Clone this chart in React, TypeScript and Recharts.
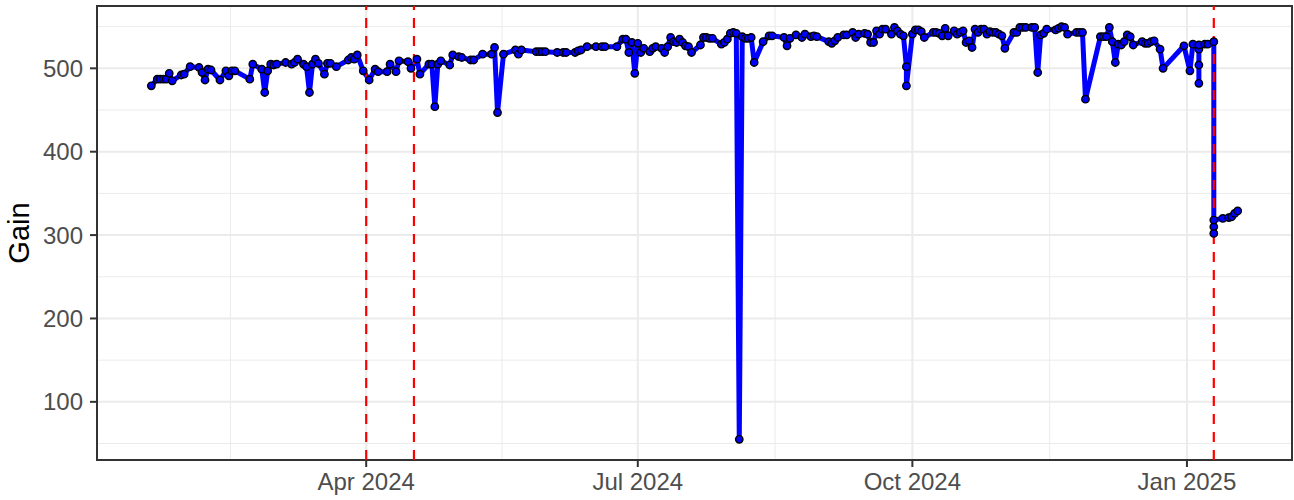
import { LineChart, Line, XAxis, YAxis, CartesianGrid, ReferenceLine, ReferenceArea } from 'recharts'

// observation dates (a few days carry more than one reading)
const dates = [
  '2024-01-20', '2024-01-22', '2024-01-23', '2024-01-24', '2024-01-25', '2024-01-26', '2024-01-27', '2024-01-30', '2024-01-31',
  '2024-02-02', '2024-02-05', '2024-02-06', '2024-02-07', '2024-02-08', '2024-02-09', '2024-02-12', '2024-02-14', '2024-02-15',
  '2024-02-16', '2024-02-17', '2024-02-22', '2024-02-23', '2024-02-26', '2024-02-27', '2024-02-28', '2024-02-29',
  '2024-03-01', '2024-03-02', '2024-03-05', '2024-03-07', '2024-03-08', '2024-03-09', '2024-03-11', '2024-03-12', '2024-03-13',
  '2024-03-14', '2024-03-15', '2024-03-16', '2024-03-18', '2024-03-19', '2024-03-20', '2024-03-22', '2024-03-26', '2024-03-27',
  '2024-03-28', '2024-03-29', '2024-03-31',
  '2024-04-02', '2024-04-04', '2024-04-05', '2024-04-08', '2024-04-09', '2024-04-11', '2024-04-12', '2024-04-15', '2024-04-16',
  '2024-04-18', '2024-04-19', '2024-04-22', '2024-04-23', '2024-04-24', '2024-04-25', '2024-04-26', '2024-04-29', '2024-04-30',
  '2024-05-02', '2024-05-03', '2024-05-06', '2024-05-07', '2024-05-10', '2024-05-13', '2024-05-14', '2024-05-15', '2024-05-17',
  '2024-05-21', '2024-05-22', '2024-05-23', '2024-05-28', '2024-05-29', '2024-05-30', '2024-05-31',
  '2024-06-04', '2024-06-06', '2024-06-07', '2024-06-10', '2024-06-11', '2024-06-12', '2024-06-14', '2024-06-17', '2024-06-19',
  '2024-06-20', '2024-06-24', '2024-06-26', '2024-06-27', '2024-06-28', '2024-06-29', '2024-06-30',
  '2024-07-01', '2024-07-02', '2024-07-03', '2024-07-05', '2024-07-06', '2024-07-07', '2024-07-09', '2024-07-10', '2024-07-11',
  '2024-07-12', '2024-07-13', '2024-07-14', '2024-07-15', '2024-07-16', '2024-07-17', '2024-07-18', '2024-07-19', '2024-07-22',
  '2024-07-23', '2024-07-24', '2024-07-25', '2024-07-26', '2024-07-29', '2024-07-30', '2024-07-31',
  '2024-08-01', '2024-08-02', '2024-08-03', '2024-08-04', '2024-08-05', '2024-08-06', '2024-08-07', '2024-08-08', '2024-08-09',
  '2024-08-12', '2024-08-14', '2024-08-15', '2024-08-19', '2024-08-20', '2024-08-21', '2024-08-23', '2024-08-25', '2024-08-26',
  '2024-08-28', '2024-08-29', '2024-08-30',
  '2024-09-03', '2024-09-04', '2024-09-05', '2024-09-06', '2024-09-08', '2024-09-09', '2024-09-11', '2024-09-12', '2024-09-13',
  '2024-09-15', '2024-09-16', '2024-09-17', '2024-09-18', '2024-09-19', '2024-09-20', '2024-09-21', '2024-09-22', '2024-09-24',
  '2024-09-25', '2024-09-26', '2024-09-27', '2024-09-28', '2024-09-29', '2024-09-29',
  '2024-10-01', '2024-10-02', '2024-10-03', '2024-10-04', '2024-10-05', '2024-10-08', '2024-10-09', '2024-10-10', '2024-10-11',
  '2024-10-12', '2024-10-13', '2024-10-15', '2024-10-16', '2024-10-17', '2024-10-18', '2024-10-19', '2024-10-20', '2024-10-21',
  '2024-10-22', '2024-10-23', '2024-10-24', '2024-10-25', '2024-10-26', '2024-10-27', '2024-10-28', '2024-10-29', '2024-10-30',
  '2024-10-31',
  '2024-11-01', '2024-11-04', '2024-11-05', '2024-11-06', '2024-11-07', '2024-11-08', '2024-11-10', '2024-11-11', '2024-11-12',
  '2024-11-13', '2024-11-14', '2024-11-15', '2024-11-18', '2024-11-19', '2024-11-20', '2024-11-21', '2024-11-22', '2024-11-25',
  '2024-11-26', '2024-11-27', '2024-11-28',
  '2024-12-03', '2024-12-04', '2024-12-05', '2024-12-06', '2024-12-07', '2024-12-08', '2024-12-09', '2024-12-10', '2024-12-11',
  '2024-12-12', '2024-12-13', '2024-12-14', '2024-12-17', '2024-12-18', '2024-12-19', '2024-12-20', '2024-12-21', '2024-12-23',
  '2024-12-24', '2024-12-31',
  '2025-01-02', '2025-01-03', '2025-01-05', '2025-01-05', '2025-01-05', '2025-01-05', '2025-01-07', '2025-01-08',
  '2025-01-10', '2025-01-10', '2025-01-10', '2025-01-10', '2025-01-13', '2025-01-15', '2025-01-16', '2025-01-17', '2025-01-18',
]

const gains = [
  479, 487, 487, 487, 487, 494, 485, 492, 493,
  502, 501, 495, 486, 499, 498, 486, 497, 491,
  497, 497, 487, 505, 499, 471, 497, 505,
  504, 505, 507, 505, 507, 511, 505, 502, 471,
  505, 511, 506, 493, 506, 506, 502, 510, 513,
  511, 516, 497,
  486, 499, 496, 496, 505, 496, 509, 508, 500,
  511, 493, 505, 505, 454, 505, 509, 504, 516,
  514, 513, 510, 510, 517, 517, 525, 447, 517,
  522, 517, 522, 520, 520, 520, 520,
  519, 519, 519, 519, 521, 522, 526, 526, 526,
  526, 526, 535, 535, 519, 531, 494,
  530, 519, 524, 520, 524, 526, 524, 519, 526,
  537, 532, 531, 535, 531, 527, 526, 519, 528,
  537, 537, 536, 536, 529, 531, 535,
  542, 543, 542, 55, 538, 536, 536, 537, 507,
  532, 539, 539, 537, 527, 536, 540, 537, 541,
  538, 539, 538,
  532, 530, 533, 537, 540, 540, 543, 537, 541,
  542, 541, 531, 531, 545, 541, 547, 547, 541,
  549, 545, 541, 539, 502, 479,
  541, 546, 546, 544, 537, 543, 543, 542, 539,
  548, 539, 545, 541, 543, 545, 531, 533, 525,
  547, 543, 547, 547, 541, 544, 543, 543, 541,
  539,
  524, 543, 543, 549, 549, 549, 549, 549, 495,
  540, 542, 547, 546, 548, 550, 549, 541, 543,
  543, 543, 463,
  538, 538, 538, 549, 532, 507, 529, 528, 532,
  540, 538, 528, 532, 530, 530, 532, 533, 523,
  500, 527,
  497, 529, 523, 504, 482, 528, 529, 529,
  532, 310, 302, 318, 320, 321, 322, 326, 329,
]

// major date breaks (first one only anchors the minor grid)
const breakDates = ['2024-01-01', '2024-04-01', '2024-07-01', '2024-10-01', '2025-01-01']
const tickLabels = ['Apr 2024', 'Jul 2024', 'Oct 2024', 'Jan 2025']
const gainTicks = [100, 200, 300, 400, 500]
const minorGainTicks = [50, 150, 250, 350, 450, 550]
const eventDates = ['2024-04-01', '2024-04-17', '2025-01-10']

const toTime = (s: string) => new Date(s + 'T00:00:00Z').getTime()

const data = dates.map((d, i) => ({ t: toTime(d), gain: gains[i] }))

// ggplot-style 5% expansion
const expand = (lo: number, hi: number): [number, number] => {
  const pad = (hi - lo) * 0.05
  return [lo - pad, hi + pad]
}
const times = data.map(d => d.t)
const xDomain = expand(Math.min(...times), Math.max(...times))
const yDomain = expand(Math.min(...gains), Math.max(...gains))

const breakTimes = breakDates.map(toTime)
const xTicks = breakTimes.slice(1)
const minorX = breakTimes.slice(1).map((t, i) => (t + breakTimes[i]) / 2)

const tickStyle = { fill: '#4D4D4D', fontSize: 24 }

export default function App() {
  return (
    <div style={{ position: 'absolute', left: 0, top: 0, background: '#fff', fontFamily: '"Liberation Sans", Arial, sans-serif' }}>
      <LineChart width={1294} height={500} data={data} margin={{ top: 6, right: 2, bottom: 0, left: 0 }}>
        <CartesianGrid stroke="#EBEBEB" strokeWidth={1} horizontalValues={minorGainTicks} verticalValues={minorX} />
        <CartesianGrid stroke="#EBEBEB" strokeWidth={2} />
        <XAxis
          dataKey="t"
          type="number"
          domain={xDomain}
          ticks={xTicks}
          interval={0}
          tickFormatter={(v: number) => tickLabels[xTicks.indexOf(v)]}
          tick={tickStyle}
          tickLine={{ stroke: '#333333', strokeWidth: 2 }}
          tickSize={7}
          tickMargin={6}
          axisLine={false}
          height={40}
        />
        <YAxis
          type="number"
          domain={yDomain}
          ticks={gainTicks}
          interval={0}
          tick={tickStyle}
          tickLine={{ stroke: '#333333', strokeWidth: 2 }}
          tickSize={7}
          tickMargin={7}
          axisLine={false}
          width={97}
          label={{ value: 'Gain', angle: -90, position: 'insideLeft', offset: 19, style: { textAnchor: 'middle', fill: '#000', fontSize: 29 } }}
        />
        <Line
          type="linear"
          dataKey="gain"
          stroke="#0000FF"
          strokeWidth={5}
          strokeLinejoin="round"
          strokeLinecap="round"
          dot={{ r: 3.7, fill: '#0000FF', stroke: '#000000', strokeWidth: 1.4 }}
          activeDot={false}
          isAnimationActive={false}
        />
        {eventDates.map(d => (
          <ReferenceLine key={d} x={toTime(d)} stroke="#FF0000" strokeWidth={2.2} strokeDasharray="10 8" />
        ))}
        <ReferenceArea
          x1={xDomain[0]}
          x2={xDomain[1]}
          y1={yDomain[0]}
          y2={yDomain[1]}
          fill="none"
          fillOpacity={0}
          stroke="#333333"
          strokeWidth={2}
        />
      </LineChart>
    </div>
  )
}
